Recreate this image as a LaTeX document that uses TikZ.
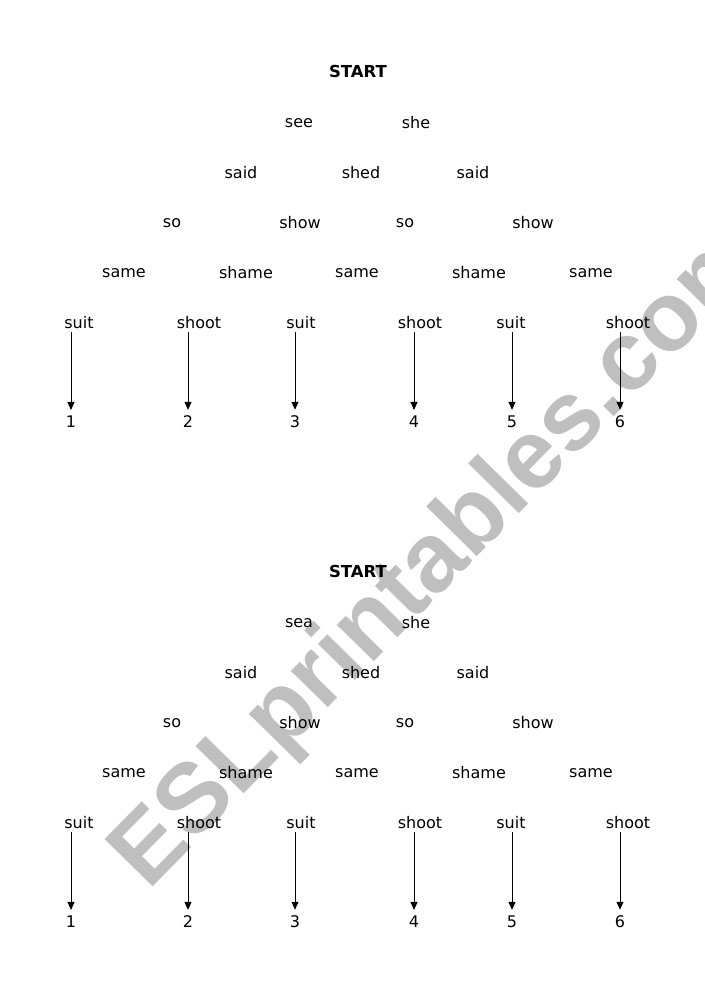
\documentclass[tikz,border=0pt]{standalone}
\usepackage{fontspec}
\setmainfont{DejaVu Sans}
\newfontfamily\wmfont{Liberation Sans}
\usetikzlibrary{arrows.meta}
\begin{document}
\begin{tikzpicture}[x=1pt,y=-1pt,
  word/.style={inner sep=0pt,font=\fontsize{16}{16}\selectfont},
  title/.style={inner sep=0pt,font=\fontsize{16.5}{16.5}\selectfont\bfseries},
  num/.style={inner sep=0pt,font=\fontsize{16}{16}\selectfont},
  arr/.style={line width=1pt,-{Triangle[width=7pt,length=8pt]},shorten <=3pt,shorten >=6pt},
  wm/.style={text=black!25,font=\fontsize{98}{98}\wmfont\bfseries,rotate=45.5,inner sep=0pt}]
\useasboundingbox (0,0) rectangle (704,1000);
\fill[white] (0,0) rectangle (704,1000);
\node[wm] (wm) at (441,557) {ESLprintables.com};
\foreach \o/\t in {0/a,500/b}{
  \node[title] (\t st) at (358,71+\o) {START};
  \node[word] (\t r1a) at (299,123+\o) {\ifnum\o=0 see\else sea\fi};
  \node[word] (\t r1b) at (416,123+\o) {she};
  \node[word] (\t r2a) at (241,173+\o) {said};
  \node[word] (\t r2b) at (361,173+\o) {shed};
  \node[word] (\t r2c) at (473,173+\o) {said};
  \node[word] (\t r3a) at (172,223+\o) {so};
  \node[word] (\t r3b) at (300,223+\o) {show};
  \node[word] (\t r3c) at (405,223+\o) {so};
  \node[word] (\t r3d) at (533,223+\o) {show};
  \node[word] (\t r4a) at (124,273+\o) {same};
  \node[word] (\t r4b) at (246,273+\o) {shame};
  \node[word] (\t r4c) at (357,273+\o) {same};
  \node[word] (\t r4d) at (479,273+\o) {shame};
  \node[word] (\t r4e) at (591,273+\o) {same};
  \node[word] (\t w1) at (79,323+\o) {suit};
  \node[word] (\t w2) at (199,323+\o) {shoot};
  \node[word] (\t w3) at (301,323+\o) {suit};
  \node[word] (\t w4) at (420,323+\o) {shoot};
  \node[word] (\t w5) at (511,323+\o) {suit};
  \node[word] (\t w6) at (628,323+\o) {shoot};
  \node[num] (\t n1) at (71,422+\o) {1};
  \node[num] (\t n2) at (188,422+\o) {2};
  \node[num] (\t n3) at (295,422+\o) {3};
  \node[num] (\t n4) at (414,422+\o) {4};
  \node[num] (\t n5) at (512,422+\o) {5};
  \node[num] (\t n6) at (620,422+\o) {6};
  \foreach \i in {1,...,6}{
    \draw[arr] (\t n\i |- \t w\i.south) -- (\t n\i.north);
  }
}
\end{tikzpicture}
\end{document}
